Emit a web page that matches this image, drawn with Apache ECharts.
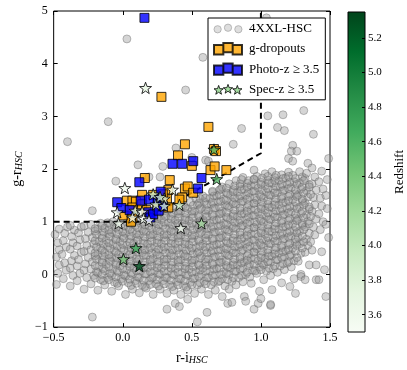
<!DOCTYPE html>
<html>
<head>
<meta charset="utf-8">
<script src="https://cdn.jsdelivr.net/npm/echarts@6/dist/echarts.min.js"></script>
<style>
  html, body { margin: 0; padding: 0; background: #fff; }
  #chart { width: 407px; height: 370px; }
</style>
</head>
<body>
<div id="chart"></div>
<script>
// 4XXL-HSC parent sample (r-i, g-r)
var hscPoints = [
    [-0.48,-0.19],[-0.47,0.02],[-0.46,0.18],[-0.48,0.33],[-0.46,0.47],[-0.47,0.6],[-0.49,0.76],[-0.46,0.86],
    [-0.43,-0.08],[-0.41,0.08],[-0.42,0.22],[-0.44,0.38],[-0.41,0.52],[-0.43,0.64],[-0.42,0.78],[-0.40,0.9],
    [-0.38,-0.22],[-0.36,-0.02],[-0.38,0.12],[-0.37,0.26],[-0.35,0.36],[-0.38,0.48],[-0.36,0.6],[-0.37,0.72],[-0.35,0.84],[-0.38,0.93],
    [-0.33,-0.12],[-0.31,0.02],[-0.33,0.16],[-0.32,0.28],[-0.30,0.42],[-0.33,0.54],[-0.31,0.66],[-0.32,0.79],[-0.30,0.9],
    [-0.28,-0.28],[-0.26,-0.06],[-0.28,0.08],[-0.27,0.2],[-0.25,0.32],[-0.28,0.44],[-0.26,0.55],[-0.27,0.68],[-0.25,0.8],[-0.28,0.92],
    [-0.23,-0.18],[-0.21,-0.02],[-0.23,0.1],[-0.22,0.24],[-0.20,0.35],[-0.23,0.47],[-0.21,0.58],[-0.22,0.7],[-0.20,0.82],[-0.23,0.95],[-0.22,1.21],[-0.22,-0.81],
    [-0.18,-0.3],[-0.16,-0.1],[-0.18,0.03],[-0.17,0.15],[-0.15,0.27],[-0.18,0.38],[-0.16,0.5],[-0.17,0.62],[-0.15,0.74],[-0.18,0.86],[-0.16,0.97],
    [-0.13,-0.2],[-0.11,-0.06],[-0.13,0.07],[-0.12,0.19],[-0.10,0.3],[-0.13,0.42],[-0.11,0.53],[-0.12,0.65],[-0.10,0.77],[-0.13,0.88],[-0.11,0.98],
    [-0.08,-0.32],[-0.06,-0.15],[-0.08,-0.02],[-0.07,0.1],[-0.05,0.22],[-0.08,0.33],[-0.06,0.45],[-0.07,0.57],[-0.05,0.68],[-0.08,0.8],[-0.06,0.91],[-0.07,1.0],
    [-0.03,-0.22],[-0.01,-0.08],[-0.03,0.04],[-0.02,0.16],[0.00,0.27],[-0.03,0.38],[-0.01,0.5],[-0.02,0.62],[0.00,0.73],[-0.03,0.85],[-0.01,0.95],
    [0.02,-0.38],[0.04,-0.16],[0.02,-0.03],[0.03,0.09],[0.05,0.2],[0.02,0.32],[0.04,0.44],[0.03,0.55],[0.05,0.67],[0.02,0.78],[0.04,0.89],[0.03,0.99],
    [0.07,-0.28],[0.09,-0.12],[0.07,0.0],[0.08,0.12],[0.10,0.24],[0.07,0.36],[0.09,0.47],[0.08,0.59],[0.10,0.7],[0.07,0.82],[0.09,0.93],[0.08,1.02],
    [0.12,-0.35],[0.14,-0.2],[0.12,-0.06],[0.13,0.06],[0.15,0.18],[0.12,0.29],[0.14,0.41],[0.13,0.52],[0.15,0.64],[0.12,0.75],[0.14,0.86],[0.13,0.97],
    [0.17,-0.26],[0.19,-0.12],[0.17,0.01],[0.18,0.13],[0.20,0.24],[0.17,0.36],[0.19,0.47],[0.18,0.58],[0.20,0.7],[0.17,0.81],[0.19,0.92],[0.18,1.03],
    [0.22,-0.38],[0.24,-0.18],[0.22,-0.05],[0.23,0.07],[0.25,0.19],[0.22,0.3],[0.24,0.42],[0.23,0.53],[0.25,0.65],[0.22,0.76],[0.24,0.88],[0.23,0.99],[0.25,1.1],
    [0.27,-0.28],[0.29,-0.12],[0.27,0.0],[0.28,0.12],[0.30,0.24],[0.27,0.35],[0.29,0.47],[0.28,0.58],[0.30,0.7],[0.27,0.81],[0.29,0.93],[0.28,1.04],[0.30,1.15],
    [0.32,-0.66],[0.32,-0.36],[0.34,-0.2],[0.32,-0.06],[0.33,0.06],[0.35,0.18],[0.32,0.29],[0.34,0.41],[0.33,0.52],[0.35,0.64],[0.32,0.75],[0.34,0.87],[0.33,0.98],[0.35,1.1],[0.32,1.2],
    [0.38,-0.55],[0.37,-0.3],[0.39,-0.14],[0.37,-0.01],[0.38,0.11],[0.40,0.23],[0.37,0.35],[0.39,0.46],[0.38,0.58],[0.40,0.69],[0.37,0.8],[0.39,0.92],[0.38,1.03],[0.40,1.15],[0.37,1.26],
    [0.41,-0.61],[0.42,-0.38],[0.44,-0.22],[0.42,-0.08],[0.43,0.04],[0.45,0.16],[0.42,0.28],[0.44,0.39],[0.43,0.51],[0.45,0.62],[0.42,0.74],[0.44,0.85],[0.43,0.97],[0.45,1.08],[0.42,1.2],[0.44,1.32],
    [0.47,-0.47],[0.47,-0.3],[0.49,-0.15],[0.47,-0.02],[0.48,0.1],[0.50,0.22],[0.47,0.33],[0.49,0.45],[0.48,0.56],[0.50,0.68],[0.47,0.79],[0.49,0.91],[0.48,1.02],[0.50,1.14],[0.47,1.25],[0.49,1.37],
    [0.54,-0.9],[0.52,-0.36],[0.54,-0.2],[0.52,-0.07],[0.53,0.05],[0.55,0.17],[0.52,0.28],[0.54,0.4],[0.53,0.51],[0.55,0.63],[0.52,0.74],[0.54,0.86],[0.53,0.97],[0.55,1.09],[0.52,1.2],[0.54,1.32],[0.53,1.43],
    [0.57,-0.28],[0.59,-0.13],[0.57,0.0],[0.58,0.12],[0.60,0.23],[0.57,0.35],[0.59,0.46],[0.58,0.58],[0.60,0.69],[0.57,0.81],[0.59,0.92],[0.58,1.04],[0.60,1.15],[0.57,1.27],[0.59,1.38],[0.58,1.49],
    [0.61,-0.72],[0.62,-0.38],[0.64,-0.2],[0.62,-0.06],[0.63,0.06],[0.65,0.18],[0.62,0.29],[0.64,0.41],[0.63,0.52],[0.65,0.64],[0.62,0.75],[0.64,0.87],[0.63,0.98],[0.65,1.1],[0.62,1.21],[0.64,1.33],[0.63,1.44],[0.65,1.56],
    [0.67,-0.3],[0.69,-0.14],[0.67,-0.01],[0.68,0.11],[0.70,0.23],[0.67,0.34],[0.69,0.46],[0.68,0.57],[0.70,0.69],[0.67,0.8],[0.69,0.92],[0.68,1.03],[0.70,1.15],[0.67,1.26],[0.69,1.38],[0.68,1.49],[0.70,1.6],
    [0.72,-0.42],[0.74,-0.22],[0.72,-0.08],[0.73,0.05],[0.75,0.17],[0.72,0.28],[0.74,0.4],[0.73,0.51],[0.75,0.63],[0.72,0.74],[0.74,0.86],[0.73,0.97],[0.75,1.09],[0.72,1.2],[0.74,1.32],[0.73,1.43],[0.75,1.55],[0.72,1.66],
    [0.76,-0.55],[0.79,-0.53],[0.77,-0.28],[0.79,-0.13],[0.77,0.0],[0.78,0.12],[0.80,0.23],[0.77,0.35],[0.79,0.46],[0.78,0.58],[0.80,0.69],[0.77,0.81],[0.79,0.92],[0.78,1.04],[0.80,1.15],[0.77,1.27],[0.79,1.38],[0.78,1.5],[0.80,1.61],[0.77,1.72],
    [0.82,-0.2],[0.84,-0.06],[0.82,0.06],[0.83,0.18],[0.85,0.29],[0.82,0.41],[0.84,0.52],[0.83,0.64],[0.85,0.75],[0.82,0.87],[0.84,0.98],[0.83,1.1],[0.85,1.21],[0.82,1.33],[0.84,1.44],[0.83,1.56],[0.85,1.67],[0.82,1.78],
    [0.88,-0.42],[0.89,-0.51],[0.87,-0.14],[0.89,0.0],[0.87,0.12],[0.88,0.24],[0.90,0.35],[0.87,0.47],[0.89,0.58],[0.88,0.7],[0.90,0.81],[0.87,0.93],[0.89,1.04],[0.88,1.16],[0.90,1.27],[0.87,1.39],[0.89,1.5],[0.88,1.62],[0.90,1.73],[0.87,1.84],
    [0.93,-0.17],[0.95,-0.66],[0.92,-0.05],[0.94,0.08],[0.92,0.2],[0.93,0.31],[0.95,0.43],[0.92,0.54],[0.94,0.66],[0.93,0.77],[0.95,0.89],[0.92,1.0],[0.94,1.12],[0.93,1.23],[0.95,1.35],[0.92,1.46],[0.94,1.58],[0.93,1.69],[0.95,1.8],[0.95,1.98],
    [0.99,-0.32],[0.98,-0.55],[1.0,-0.46],[0.97,0.02],[0.99,0.14],[0.98,0.26],[1.0,0.37],[0.97,0.49],[0.99,0.6],[0.98,0.72],[1.0,0.83],[0.97,0.95],[0.99,1.06],[0.98,1.18],[1.0,1.29],[0.97,1.41],[0.99,1.52],[0.98,1.64],[1.0,1.75],[0.97,1.86],
    [1.02,-0.1],[1.04,0.06],[1.02,0.18],[1.03,0.3],[1.05,0.41],[1.02,0.53],[1.04,0.64],[1.03,0.76],[1.05,0.87],[1.02,0.99],[1.04,1.1],[1.03,1.22],[1.05,1.33],[1.02,1.45],[1.04,1.56],[1.03,1.68],[1.05,1.79],[1.03,1.91],
    [1.07,-0.59],[1.07,-0.57],[1.08,-0.29],[1.07,-0.02],[1.09,0.11],[1.07,0.23],[1.08,0.35],[1.10,0.46],[1.07,0.58],[1.09,0.69],[1.08,0.81],[1.10,0.92],[1.07,1.04],[1.09,1.15],[1.08,1.27],[1.10,1.38],[1.07,1.5],[1.09,1.61],[1.08,1.73],[1.10,1.84],[1.08,1.95],
    [1.15,-0.16],[1.12,0.04],[1.14,0.16],[1.12,0.28],[1.13,0.4],[1.15,0.51],[1.12,0.63],[1.14,0.74],[1.13,0.86],[1.15,0.97],[1.12,1.09],[1.14,1.2],[1.13,1.32],[1.15,1.43],[1.12,1.55],[1.14,1.66],[1.13,1.78],[1.15,1.89],
    [1.21,-0.23],[1.17,0.09],[1.19,0.21],[1.17,0.33],[1.18,0.45],[1.20,0.56],[1.17,0.68],[1.19,0.79],[1.18,0.91],[1.20,1.02],[1.17,1.14],[1.19,1.25],[1.18,1.37],[1.20,1.48],[1.17,1.6],[1.19,1.71],[1.18,1.83],[1.20,1.94],[1.2,2.2],
    [1.25,-0.36],[1.24,-0.08],[1.22,0.14],[1.24,0.26],[1.22,0.38],[1.23,0.5],[1.25,0.61],[1.22,0.73],[1.24,0.84],[1.23,0.96],[1.25,1.07],[1.22,1.19],[1.24,1.3],[1.23,1.42],[1.25,1.53],[1.22,1.65],[1.24,1.76],[1.23,1.88],[1.23,2.45],[1.22,2.34],[1.26,2.34],[1.23,2.15],
    [1.29,0.0],[1.29,-0.04],[1.28,0.58],[1.27,0.25],[1.29,0.4],[1.27,0.7],[1.28,0.82],[1.30,0.93],[1.27,1.05],[1.29,1.16],[1.28,1.28],[1.30,1.39],[1.27,1.51],[1.29,1.62],[1.28,1.74],[1.30,1.85],[1.28,1.95],
    [1.32,-0.1],[1.35,0.18],[1.32,0.42],[1.34,0.55],[1.33,0.67],[1.35,0.78],[1.32,0.9],[1.34,1.01],[1.33,1.13],[1.35,1.24],[1.32,1.36],[1.34,1.47],[1.33,1.59],[1.35,1.7],[1.32,1.82],[1.34,2.11],[1.37,2.02],[1.33,1.92],
    [1.4,-0.1],[1.4,0.18],[1.37,0.46],[1.39,0.75],[1.38,0.9],[1.40,1.05],[1.37,1.2],[1.39,1.32],[1.38,1.46],[1.40,1.6],[1.37,1.72],[1.39,1.85],
    [1.42,-0.1],[1.44,0.43],[1.46,0.09],[1.43,0.85],[1.45,1.0],[1.42,1.15],[1.44,1.3],[1.43,1.45],[1.45,1.62],[1.44,1.96],[1.42,1.76],
    [1.47,-0.42],[1.47,0.95],[1.48,1.25],[1.47,1.5],[1.49,2.2],[1.48,1.8],[1.49,0.7],
    // scattered ones above the locus
    [0.03,4.47],[0.58,4.12],[0.455,3.5],[-0.105,2.9],[-0.4,2.52],[0.385,2.4],[0.11,2.08],[0.29,2.05],[0.50,2.22],
    [-0.05,1.77],[0.27,1.85],[0.19,1.85],[0.60,2.17],[1.04,4.87],[1.05,3.01],[1.16,3.03],[1.31,3.11],[1.12,2.79],
    [1.17,2.73],[1.38,2.66],[0.86,2.77],[0.80,2.47],[0.62,2.15]
];

// the crowded core of the same sample, between the columns above
var hscCore = [
    [-0.20,-0.07],[-0.19,0.05],[-0.20,0.17],[-0.19,0.29],[-0.20,0.41],[-0.19,0.52],[-0.20,0.64],[-0.19,0.76],[-0.20,0.87],
    [-0.14,-0.12],[-0.15,0.0],[-0.14,0.11],[-0.15,0.23],[-0.14,0.35],[-0.15,0.46],[-0.14,0.58],[-0.15,0.69],[-0.14,0.81],[-0.15,0.92],
    [-0.10,-0.1],[-0.09,0.02],[-0.10,0.14],[-0.09,0.25],[-0.10,0.37],[-0.09,0.49],[-0.10,0.6],[-0.09,0.72],[-0.10,0.84],[-0.09,0.95],
    [-0.04,-0.17],[-0.05,-0.05],[-0.04,0.07],[-0.05,0.19],[-0.04,0.31],[-0.05,0.42],[-0.04,0.54],[-0.05,0.66],[-0.04,0.77],[-0.05,0.89],
    [0.00,-0.13],[0.01,-0.01],[0.00,0.11],[0.01,0.22],[0.00,0.34],[0.01,0.46],[0.00,0.57],[0.01,0.69],[0.00,0.81],[0.01,0.92],
    [0.06,-0.21],[0.05,-0.09],[0.06,0.03],[0.05,0.15],[0.06,0.26],[0.05,0.38],[0.06,0.5],[0.05,0.61],[0.06,0.73],[0.05,0.85],[0.06,0.96],
    [0.10,-0.17],[0.11,-0.05],[0.10,0.07],[0.11,0.18],[0.10,0.3],[0.11,0.42],[0.10,0.53],[0.11,0.65],[0.10,0.77],[0.11,0.88],
    [0.16,-0.23],[0.15,-0.11],[0.16,0.01],[0.15,0.12],[0.16,0.24],[0.15,0.36],[0.16,0.47],[0.15,0.59],[0.16,0.71],[0.15,0.82],[0.16,0.94],
    [0.20,-0.19],[0.21,-0.07],[0.20,0.05],[0.21,0.16],[0.20,0.28],[0.21,0.4],[0.20,0.51],[0.21,0.63],[0.20,0.75],[0.21,0.86],[0.20,0.98],
    [0.26,-0.22],[0.25,-0.1],[0.26,0.02],[0.25,0.13],[0.26,0.25],[0.25,0.37],[0.26,0.48],[0.25,0.6],[0.26,0.72],[0.25,0.83],[0.26,0.95],[0.25,1.06],
    [0.30,-0.18],[0.31,-0.06],[0.30,0.06],[0.31,0.17],[0.30,0.29],[0.31,0.41],[0.30,0.52],[0.31,0.64],[0.30,0.76],[0.31,0.87],[0.30,0.99],[0.31,1.1],
    [0.36,-0.23],[0.35,-0.11],[0.36,0.01],[0.35,0.12],[0.36,0.24],[0.35,0.36],[0.36,0.47],[0.35,0.59],[0.36,0.71],[0.35,0.82],[0.36,0.94],[0.35,1.05],[0.36,1.16],
    [0.40,-0.2],[0.41,-0.08],[0.40,0.04],[0.41,0.15],[0.40,0.27],[0.41,0.39],[0.40,0.5],[0.41,0.62],[0.40,0.74],[0.41,0.85],[0.40,0.97],[0.41,1.08],[0.40,1.2],
    [0.46,-0.24],[0.45,-0.12],[0.46,0.0],[0.45,0.11],[0.46,0.23],[0.45,0.35],[0.46,0.46],[0.45,0.58],[0.46,0.7],[0.45,0.81],[0.46,0.93],[0.45,1.04],[0.46,1.16],[0.45,1.27],
    [0.50,-0.2],[0.51,-0.08],[0.50,0.04],[0.51,0.15],[0.50,0.27],[0.51,0.39],[0.50,0.5],[0.51,0.62],[0.50,0.74],[0.51,0.85],[0.50,0.97],[0.51,1.08],[0.50,1.2],[0.51,1.31],
    [0.56,-0.16],[0.55,-0.04],[0.56,0.08],[0.55,0.19],[0.56,0.31],[0.55,0.43],[0.56,0.54],[0.55,0.66],[0.56,0.78],[0.55,0.89],[0.56,1.01],[0.55,1.12],[0.56,1.24],[0.55,1.35],[0.56,1.44],
    [0.60,-0.18],[0.61,-0.06],[0.60,0.06],[0.61,0.17],[0.60,0.29],[0.61,0.41],[0.60,0.52],[0.61,0.64],[0.60,0.76],[0.61,0.87],[0.60,0.99],[0.61,1.1],[0.60,1.22],[0.61,1.33],[0.60,1.45],
    [0.66,-0.14],[0.65,-0.02],[0.66,0.1],[0.65,0.21],[0.66,0.33],[0.65,0.45],[0.66,0.56],[0.65,0.68],[0.66,0.8],[0.65,0.91],[0.66,1.03],[0.65,1.14],[0.66,1.26],[0.65,1.37],[0.66,1.49],[0.65,1.58],
    [0.70,-0.12],[0.71,0.0],[0.70,0.12],[0.71,0.23],[0.70,0.35],[0.71,0.47],[0.70,0.58],[0.71,0.7],[0.70,0.82],[0.71,0.93],[0.70,1.05],[0.71,1.16],[0.70,1.28],[0.71,1.39],[0.70,1.51],[0.71,1.62],
    [0.76,-0.1],[0.75,0.02],[0.76,0.14],[0.75,0.25],[0.76,0.37],[0.75,0.49],[0.76,0.6],[0.75,0.72],[0.76,0.84],[0.75,0.95],[0.76,1.07],[0.75,1.18],[0.76,1.3],[0.75,1.41],[0.76,1.53],[0.75,1.64],
    [0.80,-0.06],[0.81,0.06],[0.80,0.18],[0.81,0.29],[0.80,0.41],[0.81,0.53],[0.80,0.64],[0.81,0.76],[0.80,0.88],[0.81,0.99],[0.80,1.11],[0.81,1.22],[0.80,1.34],[0.81,1.45],[0.80,1.57],[0.81,1.68],
    [0.86,-0.02],[0.85,0.1],[0.86,0.22],[0.85,0.33],[0.86,0.45],[0.85,0.57],[0.86,0.68],[0.85,0.8],[0.86,0.92],[0.85,1.03],[0.86,1.15],[0.85,1.26],[0.86,1.38],[0.85,1.49],[0.86,1.61],[0.85,1.72],[0.86,1.8],
    [0.90,0.04],[0.91,0.16],[0.90,0.27],[0.91,0.39],[0.90,0.51],[0.91,0.62],[0.90,0.74],[0.91,0.86],[0.90,0.97],[0.91,1.09],[0.90,1.2],[0.91,1.32],[0.90,1.43],[0.91,1.55],[0.90,1.66],[0.91,1.78],
    [0.96,0.07],[0.95,0.19],[0.96,0.3],[0.95,0.42],[0.96,0.54],[0.95,0.65],[0.96,0.77],[0.95,0.89],[0.96,1.0],[0.95,1.12],[0.96,1.23],[0.95,1.35],[0.96,1.46],[0.95,1.58],[0.96,1.69],[0.95,1.81],
    [1.00,0.09],[1.01,0.21],[1.00,0.32],[1.01,0.44],[1.00,0.56],[1.01,0.67],[1.00,0.79],[1.01,0.91],[1.00,1.02],[1.01,1.14],[1.00,1.25],[1.01,1.37],[1.00,1.48],[1.01,1.6],[1.00,1.71],[1.01,1.83],
    [1.06,0.12],[1.05,0.24],[1.06,0.35],[1.05,0.47],[1.06,0.59],[1.05,0.7],[1.06,0.82],[1.05,0.94],[1.06,1.05],[1.05,1.17],[1.06,1.28],[1.05,1.4],[1.06,1.51],[1.05,1.63],[1.06,1.74],[1.05,1.86],
    [1.10,0.16],[1.11,0.28],[1.10,0.39],[1.11,0.51],[1.10,0.63],[1.11,0.74],[1.10,0.86],[1.11,0.98],[1.10,1.09],[1.11,1.21],[1.10,1.32],[1.11,1.44],[1.10,1.55],[1.11,1.67],[1.10,1.78],[1.11,1.88],
    [1.16,0.2],[1.15,0.32],[1.16,0.43],[1.15,0.55],[1.16,0.67],[1.15,0.78],[1.16,0.9],[1.15,1.02],[1.16,1.13],[1.15,1.25],[1.16,1.36],[1.15,1.48],[1.16,1.59],[1.15,1.71],[1.16,1.82],
    [1.20,0.24],[1.21,0.36],[1.20,0.47],[1.21,0.59],[1.20,0.71],[1.21,0.82],[1.20,0.94],[1.21,1.06],[1.20,1.17],[1.21,1.29],[1.20,1.4],[1.21,1.52],[1.20,1.63],[1.21,1.75],[1.20,1.86],
    [1.26,0.32],[1.25,0.44],[1.26,0.55],[1.25,0.67],[1.26,0.79],[1.25,0.9],[1.26,1.02],[1.25,1.14],[1.26,1.25],[1.25,1.37],[1.26,1.48],[1.25,1.6],[1.26,1.71],[1.25,1.82],
    [1.30,0.5],[1.31,0.62],[1.30,0.73],[1.31,0.85],[1.30,0.97],[1.31,1.08],[1.30,1.2],[1.31,1.32],[1.30,1.43],[1.31,1.55],[1.30,1.66],[1.31,1.78],
    [1.36,0.62],[1.35,0.96],[1.36,1.1],[1.35,1.28],[1.36,1.52],[1.35,1.66]
];

var gDropouts = [
    [0.28,3.37],[0.62,2.80],[0.45,2.47],[0.40,2.26],[0.66,2.38],[0.675,2.34],[0.50,2.06],[0.635,1.98],[0.665,2.05],
    [0.75,1.98],[0.16,1.83],[0.34,1.79],[0.45,1.63],[0.47,1.67],[0.51,1.55],[0.43,1.46],[0.41,1.42],[0.33,1.60],
    [0.32,1.44],[0.33,1.27],[0.14,1.51],[0.22,1.51],[0.03,1.40],[0.07,1.40],[0.095,1.38],[0.14,1.33],[0.07,1.27],
    [0.07,1.08],[0.06,1.00],[0.00,1.12],[0.25,1.28],[0.17,1.22],[0.29,1.52]
];

var photoZ = [
    [0.157,4.87],[0.36,2.10],[0.43,2.10],[0.51,2.15],[0.12,1.75],[0.57,1.83],[0.545,1.63],[0.275,1.57],[-0.04,1.37],
    [-0.01,1.26],[0.13,1.40],[0.25,1.42],[0.185,1.18],[0.20,1.08],[0.22,1.14],[0.26,1.21],[0.19,1.42],[0.05,1.22],[0.29,1.30]
];

// [r-i, g-r, redshift]
var specZ = [
    [0.165,3.54,3.7],[0.66,2.37,4.6],[0.68,1.81,4.55],[0.015,1.64,3.6],[0.36,1.61,3.65],[0.22,1.52,3.9],[0.30,1.44,3.8],
    [0.41,1.32,3.95],[0.24,1.33,3.85],[0.30,1.30,3.9],[-0.04,1.18,3.55],[0.09,1.21,3.8],[0.14,1.19,3.6],[0.07,1.08,3.6],
    [0.15,1.06,3.55],[0.19,1.03,3.5],[-0.03,0.97,3.6],[0.42,0.88,3.6],[0.57,0.97,4.15],[0.095,0.50,4.65],[0.005,0.29,4.4],
    [0.12,0.16,5.3],[0.27,1.47,3.9]
];

// selection window: g-r > 1.0, g-r > 1.5(r-i)+0.8, r-i < 1.0
var cutLine = [[-0.5,1.0],[0.1333,1.0],[1.0,2.3],[1.0,5.0]];

var zRange = [3.5, 5.35];
var zTicks = [3.6, 3.8, 4.0, 4.2, 4.4, 4.6, 4.8, 5.0, 5.2];
var greens = ['#f7fcf5','#e5f5e0','#c7e9c0','#a1d99b','#74c476','#41ab5d','#238b45','#006d2c','#00441b'];

var FONT = '"Liberation Serif", "DejaVu Serif", serif';
var STAR = 'path://M0,-4.7L1.12,-1.54L4.47,-1.45L1.81,0.59L2.76,3.8L0,1.9L-2.76,3.8L-1.81,0.59L-4.47,-1.45L-1.12,-1.54Z';
var ICON_CIRCLES = 'path://M0.5,6a3.5,3.5 0 1,0 7,0a3.5,3.5 0 1,0 -7,0M10.5,4.5a3.5,3.5 0 1,0 7,0a3.5,3.5 0 1,0 -7,0M20.5,6a3.5,3.5 0 1,0 7,0a3.5,3.5 0 1,0 -7,0';
var ICON_SQUARES = 'path://M0,3h9v9h-9zM9,1h9v9h-9zM18,3h9v9h-9z';
var ICON_STARS = 'path://M5,1.3L6.12,4.46L9.47,4.55L6.81,6.59L7.76,9.8L5,7.9L2.24,9.8L3.19,6.59L0.53,4.55L3.88,4.46Z' +
    'M14,0.3L15.12,3.46L18.47,3.55L15.81,5.59L16.76,8.8L14,6.9L11.24,8.8L12.19,5.59L9.53,3.55L12.88,3.46Z' +
    'M23,1.3L24.12,4.46L27.47,4.55L24.81,6.59L25.76,9.8L23,7.9L20.24,9.8L21.19,6.59L18.53,4.55L21.88,4.46Z';

function minus(v) {
    return String(v).replace('-', '\u2212');
}

var axisName = {
    rich: {
        a: { fontFamily: FONT, fontSize: 14, color: '#000', lineHeight: 14, verticalAlign: 'top' },
        b: { fontFamily: FONT, fontSize: 10, fontStyle: 'italic', color: '#000', lineHeight: 10, padding: [6, 0, 0, 0], verticalAlign: 'bottom' }
    }
};

var tickStyle = { show: true, inside: true, length: 4, lineStyle: { color: '#000', width: 1 } };
var noLine = { show: false, onZero: false };
var labelStyle = { fontFamily: FONT, fontSize: 12, color: '#000' };

var chart = echarts.init(document.getElementById('chart'), null, { renderer: 'canvas' });

var option = {
    animation: false,
    backgroundColor: '#fff',
    grid: [
        { left: 41, right: 77, top: 11, bottom: 39, show: true, borderColor: '#000', borderWidth: 1, backgroundColor: 'transparent' },
        {
            left: 348, width: 17, top: 12, height: 320, show: true, borderColor: '#000', borderWidth: 1,
            backgroundColor: {
                type: 'linear', x: 0, y: 1, x2: 0, y2: 0,
                colorStops: greens.map(function (c, i) { return { offset: i / (greens.length - 1), color: c }; })
            }
        }
    ],
    xAxis: [
        {
            type: 'value', gridIndex: 0, min: -0.5, max: 1.5, interval: 0.5, position: 'bottom',
            name: '{a|r-i}{b|HSC}', nameLocation: 'middle', nameGap: 17, nameTextStyle: axisName,
            axisLine: noLine, axisTick: tickStyle, splitLine: { show: false },
            axisLabel: Object.assign({ margin: 5, formatter: function (v) { return minus(v.toFixed(1)); } }, labelStyle)
        },
        {
            type: 'value', gridIndex: 0, min: -0.5, max: 1.5, interval: 0.5, position: 'top',
            axisLine: noLine, axisTick: tickStyle, axisLabel: { show: false }, splitLine: { show: false }
        },
        { type: 'value', gridIndex: 1, min: 0, max: 1, show: false }
    ],
    yAxis: [
        {
            type: 'value', gridIndex: 0, min: -1, max: 5, interval: 1, position: 'left',
            name: '{a|g-r}{b|HSC}', nameLocation: 'middle', nameGap: 21, nameRotate: 90, nameTextStyle: axisName,
            axisLine: noLine, axisTick: tickStyle, splitLine: { show: false },
            axisLabel: Object.assign({ margin: 6, formatter: function (v) { return minus(v); } }, labelStyle)
        },
        {
            type: 'value', gridIndex: 0, min: -1, max: 5, interval: 1, position: 'right',
            axisLine: noLine, axisTick: tickStyle, axisLabel: { show: false }, splitLine: { show: false }
        },
        {
            type: 'value', gridIndex: 1, min: zRange[0], max: zRange[1], position: 'right',
            name: 'Redshift', nameLocation: 'middle', nameGap: 28, nameRotate: 90,
            nameTextStyle: { fontFamily: FONT, fontSize: 13, color: '#000' },
            axisLine: noLine, splitLine: { show: false },
            axisTick: { show: true, inside: true, length: 3, customValues: zTicks, lineStyle: { color: '#000' } },
            axisLabel: {
                margin: 3, customValues: zTicks, fontFamily: FONT, fontSize: 11, color: '#000',
                formatter: function (v) { return v.toFixed(1); }
            }
        }
    ],
    visualMap: {
        type: 'continuous', show: false, seriesIndex: 4, dimension: 2,
        min: zRange[0], max: zRange[1], inRange: { color: greens }
    },
    legend: {
        left: 208, top: 18, orient: 'vertical',
        padding: [4, 6, 4, 5], itemGap: 7, itemWidth: 28, itemHeight: 12,
        backgroundColor: '#fff', borderColor: '#000', borderWidth: 1, borderRadius: 0,
        textStyle: { fontFamily: FONT, fontSize: 13, color: '#000', padding: [0, 0, 0, 2] },
        data: [
            { name: '4XXL-HSC', icon: ICON_CIRCLES, itemStyle: { color: '#d6d6d6', borderColor: '#aaa', borderWidth: 1 } },
            { name: 'g-dropouts', icon: ICON_SQUARES },
            { name: 'Photo-z \u2265 3.5', icon: ICON_SQUARES },
            { name: 'Spec-z \u2265 3.5', icon: ICON_STARS, itemStyle: { color: '#8fd48a', borderColor: '#000', borderWidth: 1 } }
        ]
    },
    series: [
        {
            name: '4XXL-HSC', type: 'scatter', xAxisIndex: 0, yAxisIndex: 0,
            symbol: 'circle', symbolSize: 8, data: hscPoints.concat(hscCore),
            itemStyle: { color: 'rgba(150,150,150,0.5)', borderColor: 'rgba(95,95,95,0.5)', borderWidth: 1 }
        },
        {
            name: 'cut', type: 'line', xAxisIndex: 0, yAxisIndex: 0, data: cutLine,
            symbol: 'none', lineStyle: { color: '#000', width: 2, type: [6, 4] }, z: 3
        },
        {
            name: 'g-dropouts', type: 'scatter', xAxisIndex: 0, yAxisIndex: 0,
            symbol: 'rect', symbolSize: 9, data: gDropouts, z: 4,
            itemStyle: { color: '#ffa500', borderColor: '#000', borderWidth: 1 }
        },
        {
            name: 'Photo-z \u2265 3.5', type: 'scatter', xAxisIndex: 0, yAxisIndex: 0,
            symbol: 'rect', symbolSize: 9, data: photoZ, z: 5,
            itemStyle: { color: '#0000ff', borderColor: '#000', borderWidth: 1 }
        },
        {
            name: 'Spec-z \u2265 3.5', type: 'scatter', xAxisIndex: 0, yAxisIndex: 0,
            symbol: STAR, symbolSize: 12, symbolKeepAspect: true, data: specZ, z: 6,
            itemStyle: { borderColor: '#000', borderWidth: 1 }
        }
    ]
};

chart.setOption(option);
</script>
</body>
</html>
